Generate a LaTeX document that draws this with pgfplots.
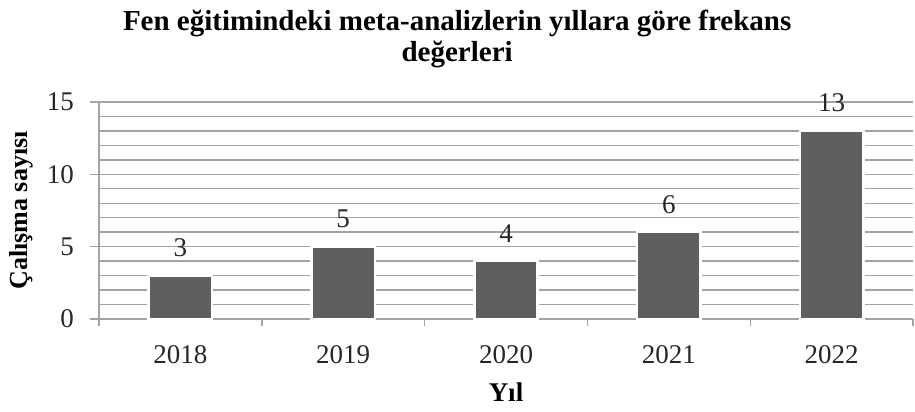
\documentclass[border=0pt]{standalone}
\usepackage{fontspec}
\setmainfont{Liberation Serif}
\usepackage{pgfplots}
\pgfplotsset{compat=1.18}
\definecolor{barc}{HTML}{5F5F5F}
\definecolor{gridc}{HTML}{A3A3A3}
\begin{document}
\begin{tikzpicture}
\begin{axis}[
  name=ax,
  scale only axis,
  width=814pt, height=217pt,
  xmin=-0.5, xmax=4.5,
  ymin=0, ymax=15,
  xtick={0,1,2,3,4},
  xticklabels={2018,2019,2020,2021,2022},
  major x tick style={draw=none},
  minor xtick={-0.5,0.5,1.5,2.5,3.5,4.5},
  ytick={0,5,10,15},
  minor ytick={1,2,3,4,6,7,8,9,11,12,13,14},
  ymajorgrids, yminorgrids,
  grid style={gridc, line width=1.4pt},
  minor grid style={gridc, line width=1.4pt},
  axis x line*=bottom, axis y line*=left,
  axis line style={gridc, line width=1.4pt, -},
  tick style={gridc, line width=1.4pt},
  tick align=outside,
  major tick length=9pt, minor tick length=7pt,
  minor y tick style={draw=none},
  /pgf/number format/assume math mode=true,
  tick label style={font=\fontsize{27}{30}\selectfont, text=black!85, inner sep=0pt},
  xticklabel style={anchor=base, yshift=-35pt},
  yticklabel style={anchor=east, xshift=-16pt},
  ylabel={\textbf{Çalışma sayısı}},
  ylabel style={font=\fontsize{26}{28}\selectfont, at={(axis description cs:-0.095,0.5)}, anchor=center, inner sep=0pt},
  xlabel={\textbf{Yıl}},
  xlabel style={font=\fontsize{27}{28}\selectfont, at={(axis description cs:0.5,-0.378)}, anchor=base, inner sep=0pt},
  title={\textbf{Fen eğitimindeki meta-analizlerin yıllara göre frekans}\\\textbf{değerleri}},
  title style={font=\fontsize{29}{30.5}\selectfont, align=center, at={(axis description cs:0.44,1.129)}, anchor=south, inner sep=0pt},
  ybar, bar width=0.39,
  nodes near coords,
  nodes near coords style={font=\fontsize{27}{30}\selectfont, text=black!85, anchor=base, inner sep=0pt, yshift=19pt},
  clip=false,
]
\addplot[fill=barc, draw=white, line width=2.5pt] coordinates {(0,3) (1,5) (2,4) (3,6) (4,13)};
\end{axis}
\pgfresetboundingbox
\path[use as bounding box] ([shift={(-99pt,-93pt)}]ax.south west) rectangle ([shift={(2pt,102pt)}]ax.north east);
\end{tikzpicture}
\end{document}
